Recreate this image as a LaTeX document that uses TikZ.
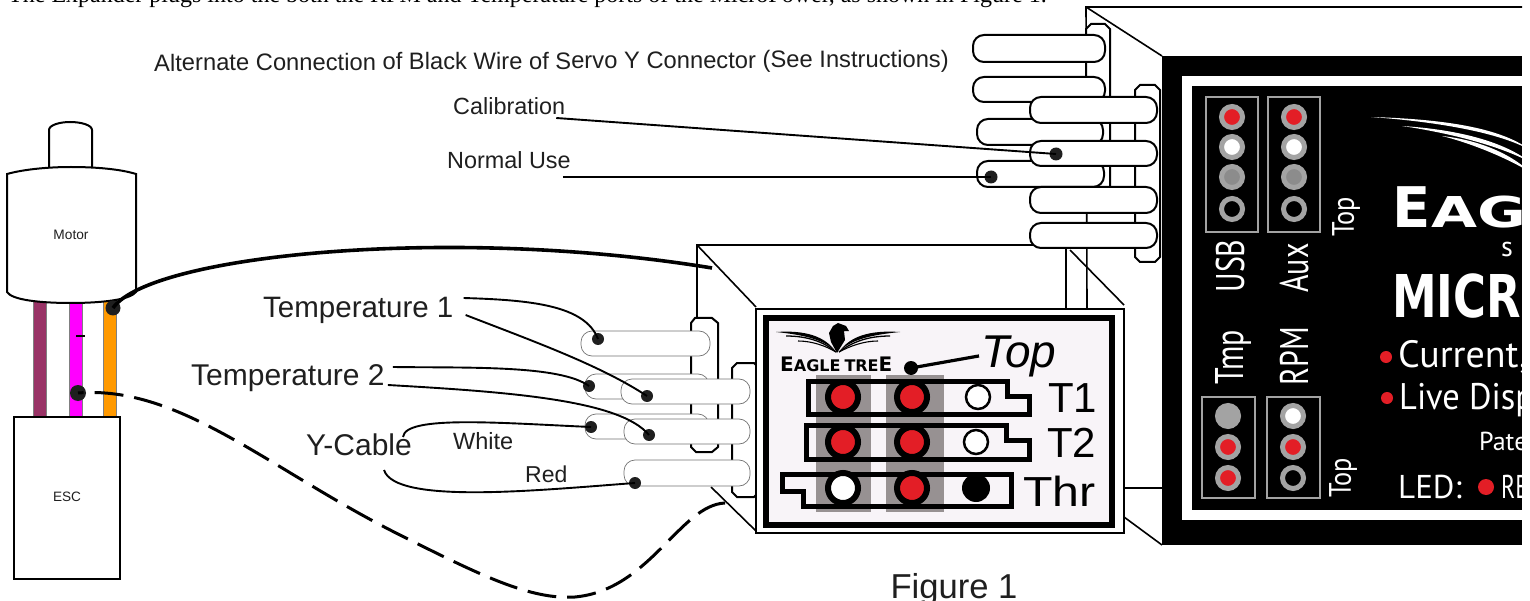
\documentclass[tikz,border=0pt]{standalone}
\usepackage{fontspec}
\setmainfont{Liberation Sans}
\newfontfamily\noteface{Liberation Serif}
\newfontfamily\panelface{PT Sans}
\newfontfamily\heavyface{DejaVu Sans}
\newcommand{\fs}[1]{\fontsize{#1}{#1}\selectfont}
\newcommand{\narrowtxt}[2]{\scalebox{#1}[1]{#2}}
\definecolor{pinred}{HTML}{E31E26}
\definecolor{pinring}{HTML}{A3A3A3}
\definecolor{pinmid}{HTML}{8C8C8C}
\definecolor{columngray}{HTML}{979192}
\definecolor{facepink}{HTML}{F8F4F8}
\definecolor{wireplum}{HTML}{993366}
\definecolor{wirepink}{HTML}{FF00FF}
\definecolor{wireorange}{HTML}{FF9900}
\tikzset{
    txt/.style={inner sep=0pt,text=black!88},
    paneltxt/.style={inner sep=0pt,text=white},
    wire/.style={line width=1.9pt},
    wiredot/.style={circle,fill=black!88,inner sep=0pt,minimum size=#1},
    hood/.style={draw,fill=white,line width=2pt},
    bigplug/.style={draw,fill=white,line width=2pt,rounded corners=11pt},
    smallplug/.style={draw=black!55,fill=white,line width=0.7pt,rounded corners=11pt},
    boxline/.style={line width=1.6pt},
    pinbox/.style={draw=pinring,line width=1.2pt},
    pin/.style={circle,inner sep=0pt,minimum size=21pt,fill=#1,draw=pinring,line width=5pt},
    facepin/.style={circle,inner sep=0pt,minimum size=30pt,fill=#1,draw=black,line width=6pt},
    holepin/.style={circle,inner sep=0pt,minimum size=24pt,fill=white,draw,line width=2.5pt},
    faceoutline/.style={draw=black,line width=5pt,line join=miter}
}

\begin{document}
\begin{tikzpicture}[x=1pt,y=-1pt]
    \useasboundingbox (0,0) rectangle (1530,601);

    \node[anchor=base west,inner sep=0pt] (nNote) at (8,3) {\noteface\fs{24}The Expander plugs into the both the RPM and Temperature ports of the MicroPower, as shown in Figure 1.};

    % lower device, back edges
    \draw[boxline] (697,318) -- (697,245) -- (1040,245);
    \draw[boxline] (697,245) -- (756,307);
    \draw[boxline] (1066,240) -- (1066,309);
    \draw[boxline] (1070,250) -- (1124,305);
    \draw[boxline] (711,487) -- (756,531);
    \draw[boxline] (1124,488) -- (1162,488);
    \draw[boxline] (1124,517) -- (1162,545);

    % upper device, back edges
    \draw[boxline] (1522,7) -- (1086,7) -- (1087,309);
    \draw[boxline] (1086,7) -- (1162,56);
    \draw[hood] (1091,24) -- (1105,24) -- (1110,29) -- (1110,188) -- (1086,188) -- (1086,29) -- cycle;

    \draw[bigplug] (973,35) rectangle (1105,62);
    \draw[bigplug] (973,77) rectangle (1105,102);
    \draw[bigplug] (977,119) rectangle (1103,145);
    \draw[bigplug] (977,161) rectangle (1104,187);

    \draw[hood] (1140,85) -- (1155,85) -- (1160,90) -- (1160,257) -- (1155,262) -- (1140,262) -- (1135,257) -- (1135,90) -- cycle;

    \draw[bigplug] (1030,97) rectangle (1157,123);
    \draw[bigplug] (1030,141) rectangle (1157,166);
    \draw[bigplug] (1030,187) rectangle (1157,213);
    \draw[bigplug] (1030,223) rectangle (1157,248);

    % black panel
    \fill (1162,56) rectangle (1522,545);
    \draw[white,line width=10pt] (1530,81) -- (1187,81) -- (1187,515) -- (1530,515);

    \draw[pinbox] (1206,97) rectangle (1258,232);
    \draw[pinbox] (1268,97) rectangle (1320,232);
    \draw[pinbox] (1202,397) rectangle (1255,498);
    \draw[pinbox] (1267,397) rectangle (1320,498);

    \node[pin=pinred] (pinUsbA) at (1232,117) {};
    \node[pin=white] (pinUsbB) at (1232,147) {};
    \node[pin=pinmid] (pinUsbC) at (1232,177) {};
    \node[pin=black] (pinUsbD) at (1232,209) {};
    \node[pin=pinred] (pinAuxA) at (1294,117) {};
    \node[pin=white] (pinAuxB) at (1294,147) {};
    \node[pin=pinmid] (pinAuxC) at (1294,177) {};
    \node[pin=black] (pinAuxD) at (1294,209) {};
    \node[pin=pinring] (pinTmpA) at (1228,416) {};
    \node[pin=pinred] (pinTmpB) at (1228,447) {};
    \node[pin=pinred] (pinTmpC) at (1228,478) {};
    \node[pin=white] (pinRpmA) at (1293,416) {};
    \node[pin=pinred] (pinRpmB) at (1293,447) {};
    \node[pin=black] (pinRpmC) at (1293,478) {};

    \node[paneltxt,rotate=90,font=\panelface\fs{40}] (nUsb) at (1230,266) {\narrowtxt{.75}{USB}};
    \node[paneltxt,rotate=90,font=\panelface\fs{40}] (nAux) at (1294,268) {\narrowtxt{.75}{Aux}};
    \node[paneltxt,rotate=90,font=\panelface\fs{40}] (nTmp) at (1233,357) {\narrowtxt{.75}{Tmp}};
    \node[paneltxt,rotate=90,font=\panelface\fs{40}] (nRpm) at (1294,356) {\narrowtxt{.75}{RPM}};
    \node[paneltxt,rotate=90,font=\panelface\fs{31}] (nTopA) at (1346,217) {\narrowtxt{.85}{Top}};
    \node[paneltxt,rotate=90,font=\panelface\fs{31}] (nTopB) at (1343,478) {\narrowtxt{.85}{Top}};

    \begin{scope}
        \clip (1162,56) rectangle (1522,545);
        \fill[white] (1371,117) .. controls (1440,119) and (1500,127) .. (1530,150) .. controls (1500,133) and (1440,122) .. (1371,117);
        \fill[white] (1402,126) .. controls (1450,129) and (1500,139) .. (1530,162) .. controls (1500,146) and (1450,133) .. (1402,126);
        \fill[white] (1442,136) .. controls (1470,139) and (1505,149) .. (1530,172) .. controls (1505,157) and (1470,143) .. (1442,136);
        \node[paneltxt,anchor=base west,font=\heavyface\bfseries\fs{56}] (nEag) at (1392,228) {E\hspace{1pt}{\fs{42.5}\narrowtxt{1.4}{AG}}};
        \node[paneltxt,font=\panelface\fs{28}] (nSub) at (1507,250) {s};
        \node[paneltxt,anchor=base west,font=\heavyface\bfseries\fs{59}] (nMicr) at (1392,318) {\narrowtxt{.76}{MICR}};
        \node[paneltxt,anchor=base west,font=\panelface\fs{38}] (nCurrent) at (1398,367) {Current,};
        \node[paneltxt,anchor=base west,font=\panelface\fs{37}] (nLive) at (1399,409) {\narrowtxt{.93}{Live Disp}};
        \node[paneltxt,anchor=base west,font=\panelface\fs{26}] (nPate) at (1479,450) {Pate};
        \node[paneltxt,anchor=base west,font=\panelface\fs{33}] (nLed) at (1398,498) {LED:};
        \node[paneltxt,anchor=base west,font=\panelface\fs{33}] (nRe) at (1501,498) {\narrowtxt{.72}{RE}};
    \end{scope}
    \fill[pinred] (1386,357) circle (6);
    \fill[pinred] (1387,398) circle (6);
    \fill[pinred] (1486,487) circle (8);

    % lower device, plugs
    \draw[hood] (695,318) -- (712,318) -- (718,323) -- (718,447) -- (712,452) -- (696,452) -- (691,447) -- (691,323) -- cycle;
    \draw[smallplug] (581,331) rectangle (710,356);
    \draw[smallplug] (585,374) rectangle (709,399);
    \draw[smallplug] (585,414) rectangle (709,439);
    \draw[hood] (737,363) -- (754,363) -- (759,368) -- (759,492) -- (754,497) -- (737,497) -- (732,492) -- (732,368) -- cycle;
    \draw[smallplug] (621,379) rectangle (750,404);
    \draw[smallplug] (624,419) rectangle (750,444);
    \draw[smallplug] (624,460) rectangle (750,486);

    % lower device, front face
    \draw[fill=white,line width=1.6pt] (756,309) rectangle (1124,533);
    \draw[fill=facepink,line width=5.5pt] (766,318) rectangle (1112,525);
    \fill[columngray] (816,375) rectangle (871,512);
    \fill[columngray] (886,375) rectangle (944,512);
    \draw[faceoutline] (808,381) -- (1007,381) -- (1007,396) -- (1029,396) -- (1029,414) -- (808,414) -- cycle;
    \draw[faceoutline] (806,425) -- (1006,425) -- (1006,440) -- (1029,440) -- (1029,459) -- (806,459) -- cycle;
    \draw[faceoutline] (782,474) -- (1011,474) -- (1011,506) -- (803,506) -- (803,491) -- (782,491) -- cycle;

    \node[facepin=pinred] (pinTa) at (843,397) {};
    \node[facepin=pinred] (pinTb) at (912,397) {};
    \node[holepin] (pinTc) at (978,397) {};
    \node[facepin=pinred] (pinUa) at (843,442) {};
    \node[facepin=pinred] (pinUb) at (912,442) {};
    \node[holepin] (pinUc) at (976,442) {};
    \node[facepin=white] (pinVa) at (843,488) {};
    \node[facepin=pinred] (pinVb) at (912,488) {};
    \node[circle,inner sep=0pt,minimum size=28pt,fill=black] (pinVc) at (976,488) {};

    % logo
    \fill (829,333) -- (833,326) -- (838,323) -- (846,326) -- (849,331) -- (844,331) -- (845,340) -- (837,353) -- (831,342) -- cycle;
    \fill (776,332) .. controls (805,330) and (825,336) .. (836,352) .. controls (825,340) and (805,335) .. (776,332);
    \draw[line width=1.3pt] (786,336) .. controls (808,336) and (824,342) .. (836,352);
    \draw[line width=1.1pt] (798,341) .. controls (812,341) and (826,346) .. (836,352);
    \fill (900,332) .. controls (870,330) and (850,336) .. (839,352) .. controls (850,340) and (870,335) .. (900,332);
    \draw[line width=1.3pt] (890,336) .. controls (868,336) and (852,342) .. (839,352);
    \draw[line width=1.1pt] (878,341) .. controls (864,341) and (850,346) .. (839,352);
    \node[anchor=base west,inner sep=0pt,font=\heavyface\bfseries] (nLogo) at (780,371) {\fs{20}E\fs{16}AGLE\hspace{4pt}TRE\fs{20}E};

    \node[txt,text=black,anchor=base west,font=\itshape\fs{46}] (nTop) at (981,367) {Top};
    \node[wiredot=14pt,fill=black] (dotTop) at (911,368) {};
    \draw[line width=3.2pt] (dotTop.center) -- ([shift={(-2,0)}]nTop.west);
    \node[txt,text=black,anchor=base west,font=\fs{42}] (nTa) at (1048,412) {T1};
    \node[txt,text=black,anchor=base west,font=\fs{42}] (nTb) at (1047,457) {T2};
    \node[txt,text=black,anchor=base west,font=\fs{42}] (nThr) at (1023,506) {\narrowtxt{1.15}{Thr}};

    % motor and ESC
    \fill[wireplum] (33,300) rectangle (46,418);
    \fill[wirepink] (69,300) rectangle (82,418);
    \fill[wireorange] (103,300) rectangle (116,418);
    \draw[line width=1pt,black!50] (33,300) -- (33,418) (46,300) -- (46,418) (69,300) -- (69,418) (82,300) -- (82,418) (103,300) -- (103,418) (116,300) -- (116,418);
    \draw[line width=2pt,fill=white] (49,167) -- (49,130) .. controls (49,125) and (60,122) .. (70,122) .. controls (81,122) and (92,125) .. (92,130) -- (92,167);
    \draw[line width=2pt,fill=white] (7,174) .. controls (25,169) and (50,167) .. (71,167) .. controls (95,167) and (120,169) .. (136,174) -- (136,292) .. controls (130,300) and (100,303) .. (71,303) .. controls (40,303) and (12,300) .. (7,292) -- cycle;
    \draw[line width=2.2pt,fill=white] (14,417) rectangle (120,579);
    \node[txt,font=\fs{13.7}] (nMotor) at (71,235) {Motor};
    \node[txt,font=\fs{13.6}] (nEsc) at (67,497) {ESC};
    \draw[line width=2pt] (76,336) -- (85,336);

    \node[wiredot=15pt] (dotMotor) at (113,308) {};
    \node[wiredot=16pt] (dotEsc) at (78,393) {};
    \coordinate (boxEntry) at (712,268);
    \coordinate (boxEntryLow) at (725,503);
    \draw[line width=3.6pt] (dotMotor.center) .. controls (150,255) and (450,225) .. (boxEntry);
    \draw[line width=3pt,dash pattern=on 29pt off 11pt] (boxEntryLow) .. controls (680,505) and (650,590) .. (575,597) .. controls (530,600) and (480,575) .. (400,535) .. controls (270,470) and (180,385) .. (dotEsc.center);

    % labels and leader lines
    \node[txt,anchor=west,rotate=0.3,font=\fs{23.75}] (nAlternate) at (154,65) {Alternate Connection of Black Wire of Servo Y Connector (See Instructions)};
    \node[txt,anchor=west,font=\fs{23.4}] (nCalibration) at (453,106) {Calibration};
    \node[txt,anchor=west,font=\fs{23.4}] (nNormal) at (447,160) {Normal Use};
    \node[wiredot=13pt] (dotCalibration) at (1056,154) {};
    \node[wiredot=13pt] (dotNormal) at (991,177) {};
    \draw[wire] ([shift={(-9,12)}]nCalibration.east) -- (dotCalibration.center);
    \draw[wire] ([shift={(-8,17)}]nNormal.east) -- (dotNormal.center);

    \node[txt,anchor=west,font=\fs{29.5}] (nTempOne) at (263,310) {Temperature 1};
    \node[txt,anchor=west,font=\fs{30}] (nTempTwo) at (191,378) {Temperature 2};
    \node[txt,anchor=west,font=\fs{30}] (nYcable) at (306,445) {Y-Cable};
    \node[txt,anchor=west,font=\fs{23.5}] (nWhite) at (453,441) {White};
    \node[txt,anchor=west,font=\fs{23}] (nRed) at (525,474) {Red};
    \node[txt,anchor=base,font=\fs{34.6}] (nFigure) at (954,598) {Figure 1};

    \node[wiredot=12pt] (dotA) at (598,339) {};
    \node[wiredot=12pt] (dotB) at (647,396) {};
    \node[wiredot=12pt] (dotC) at (589,386) {};
    \node[wiredot=12pt] (dotD) at (649,435) {};
    \node[wiredot=12pt] (dotE) at (591,427) {};
    \node[wiredot=12pt] (dotF) at (635,483) {};

    \draw[wire] ([shift={(10,-12)}]nTempOne.east) .. controls (530,300) and (585,305) .. (dotA.center);
    \draw[wire] ([shift={(12,5)}]nTempOne.east) .. controls (530,340) and (600,365) .. (dotB.center);
    \draw[wire] ([shift={(8,-11)}]nTempTwo.east) .. controls (470,368) and (560,365) .. (dotC.center);
    \draw[wire] ([shift={(3,7)}]nTempTwo.east) .. controls (510,392) and (620,400) .. (dotD.center);
    \draw[wire] ([shift={(-9,-8)}]nYcable.east) .. controls (405,415) and (500,423) .. (dotE.center);
    \draw[wire] ([shift={(-28,25)}]nYcable.east) .. controls (395,505) and (540,490) .. (dotF.center);
\end{tikzpicture}
\end{document}
